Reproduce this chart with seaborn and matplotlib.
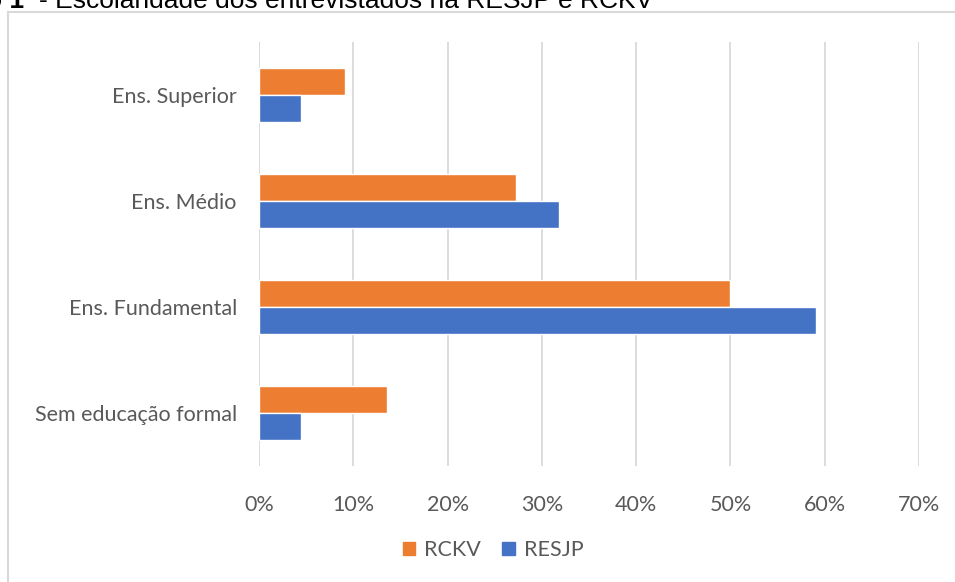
import pandas as pd
import matplotlib.pyplot as plt
import seaborn as sns
from matplotlib.lines import Line2D
from matplotlib.ticker import PercentFormatter

# Data (share of respondents, %)
categories = ['Ens. Superior', 'Ens. Médio', 'Ens. Fundamental', 'Sem educação formal']
rckv = [9.1, 27.3, 50.0, 13.6]
resjp = [4.5, 31.8, 59.1, 4.5]
series = ['RCKV', 'RESJP']
colors = {'RCKV': '#ED7D31', 'RESJP': '#4472C4'}
xticks = [0, 10, 20, 30, 40, 50, 60, 70]

df = pd.DataFrame({
    'categoria': categories * 2,
    'serie': ['RCKV'] * 4 + ['RESJP'] * 4,
    'valor': rckv + resjp,
})

sns.set_style('white')
plt.rcParams['font.family'] = ['Lato', 'DejaVu Sans']

fig = plt.figure(figsize=(9.55, 5.82), dpi=100)
ax = fig.add_axes([259 / 955, 1 - 466 / 582, 660 / 955, 424 / 582])

sns.barplot(data=df, y='categoria', x='valor', hue='serie', order=categories,
            hue_order=series, palette=colors, orient='h', width=0.51, gap=0,
            ax=ax, legend=False, saturation=1)

ax.set_xlim(0, 70)
ax.set_ylim(3.5, -0.5)
ax.set_xticks(xticks)
ax.xaxis.set_major_formatter(PercentFormatter(decimals=0))
ax.grid(axis='x', color='#d9d9d9', linewidth=1.3)
ax.set_axisbelow(True)
for s in ax.spines.values():
    s.set_visible(False)
ax.set_xlabel('')
ax.set_ylabel('')
ax.tick_params(axis='x', length=0, pad=21, labelsize=15.5, labelcolor='#595959')
ax.tick_params(axis='y', length=0, pad=16, labelsize=15.5, labelcolor='#595959')

# legend
handles = [plt.Rectangle((0, 0), 1, 1, color=colors[s]) for s in series]
fig.legend(handles, series, loc='center', bbox_to_anchor=(493 / 955, 1 - 550 / 582),
           ncol=2, frameon=False, fontsize=15.5, labelcolor='#595959',
           handlelength=0.6, handleheight=0.6, handletextpad=0.4, columnspacing=1.0)

# chart frame (left and top edges visible)
fig.add_artist(Line2D([8 / 955, 8 / 955], [0, 1 - 12 / 582], color='#d9d9d9', lw=1.5))
fig.add_artist(Line2D([8 / 955, 1], [1 - 12 / 582, 1 - 12 / 582], color='#d9d9d9', lw=1.5))

# clipped caption above the chart
fig.text(24 / 955, 1 - 8 / 582, 'o 1', fontsize=19, fontweight='bold',
         family=['Liberation Sans'], va='baseline', ha='right', color='black')
fig.text(39 / 955, 1 - 8 / 582, '- Escolaridade dos entrevistados na RESJP e RCKV',
         fontsize=19, family=['Liberation Sans'], va='baseline', ha='left', color='black')

plt.savefig('out.png', dpi=100)
plt.close()
